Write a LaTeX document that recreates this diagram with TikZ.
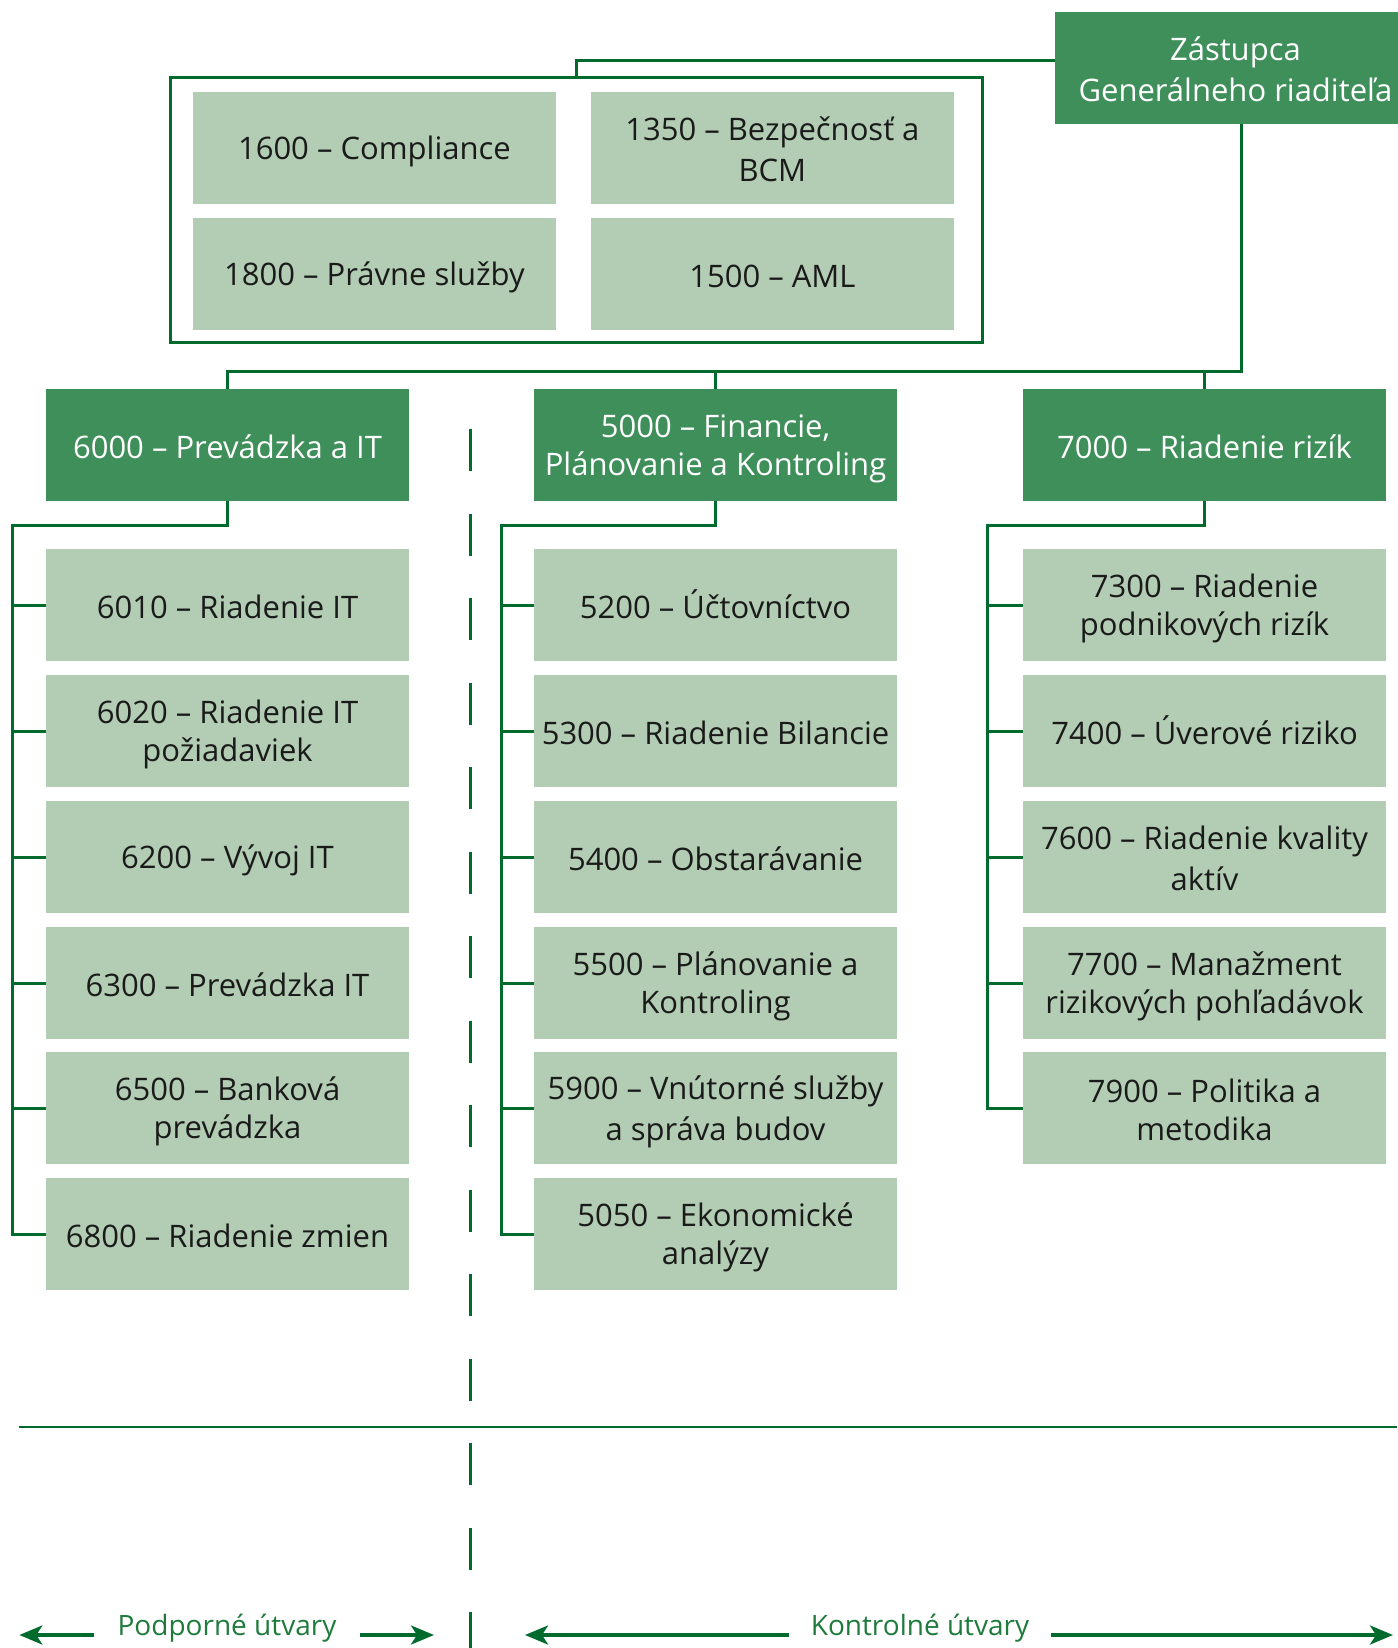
\documentclass[tikz,border=0pt]{standalone}
\usepackage{fontspec}
\setmainfont{Open Sans}
\usetikzlibrary{arrows.meta}
\definecolor{dkg}{HTML}{3F8F5B}
\definecolor{ltg}{HTML}{B2CDB3}
\definecolor{lnc}{HTML}{006B2D}
\definecolor{lbl}{HTML}{1E7B3C}
\definecolor{txt}{HTML}{1A1A1A}
\newcommand{\st}{\rule[-0.15em]{0pt}{1.15em}}
\begin{document}
\begin{tikzpicture}[x=0.5pt,y=-0.5pt,
  box/.style={rectangle, minimum width=181.5pt, minimum height=56pt, inner sep=0pt,
    align=center, font=\fontsize{15.5}{18.85}\selectfont, text=txt},
  head/.style={box, fill=dkg, text=white},
  unit/.style={box, fill=ltg},
  conn/.style={draw=lnc, line width=1.5pt},
  divider/.style={draw=lnc, line width=1.75pt, dash pattern=on 21pt off 21.25pt},
  sep/.style={draw=lnc, line width=1.1pt},
  lab/.style={font=\fontsize{14}{16}\selectfont, text=lbl, anchor=base, inner ysep=0pt},
  arr/.style={draw=lnc, line width=1.75pt, -{Stealth[length=11.5pt,width=9.5pt,inset=3pt]}},
]
\useasboundingbox (0,0) rectangle (1397,1648);

% top
\node[head, minimum width=180pt, anchor=west] (zgr) at (1055,68) {\st Zástupca\\\st Generálneho riaditeľa};
\node[draw=lnc, line width=1.5pt, minimum width=405.7pt, minimum height=132.35pt, inner sep=0pt] (grp) at (576.3,210.35) {};
\node[unit] (g1) at (374.4,147.9) {\st 1600 – Compliance};
\node[unit] (g2) at (772.4,147.9) {\st 1350 – Bezpečnosť a\\\st BCM};
\node[unit] (g3) at (374.4,273.9) {\st 1800 – Právne služby};
\node[unit] (g4) at (772.4,273.9) {\st 1500 – AML};

\coordinate (zj) at (0,61);
\draw[conn] (zgr.west |- zj) -- (grp.north |- zj) -- (grp.north);

% heads
\node[head] (h6) at (227.5,445) {\st 6000 – Prevádzka a IT};
\node[head] (h5) at (715.5,445) {\st 5000 – Financie,\\\st Plánovanie a Kontroling};
\node[head] (h7) at (1204.5,445) {\st 7000 – Riadenie rizík};

\coordinate (zv) at (1241.5,371);
\draw[conn] (zgr.south -| zv) -- (zv) -- (h6.north |- zv) -- (h6.north);
\draw[conn] (h5.north |- zv) -- (h5.north);
\draw[conn] (h7.north |- zv) -- (h7.north);

% left column
\node[unit] (a1) at (227.5,605) {\st 6010 – Riadenie IT};
\node[unit] (a2) at (227.5,731) {\st 6020 – Riadenie IT\\\st požiadaviek};
\node[unit] (a3) at (227.5,857) {\st 6200 – Vývoj IT};
\node[unit] (a4) at (227.5,983) {\st 6300 – Prevádzka IT};
\node[unit] (a5) at (227.5,1108) {\st 6500 – Banková\\\st prevádzka};
\node[unit] (a6) at (227.5,1234) {\st 6800 – Riadenie zmien};

% middle column
\node[unit] (b1) at (715.5,605) {\st 5200 – Účtovníctvo};
\node[unit] (b2) at (715.5,731) {\st 5300 – Riadenie Bilancie};
\node[unit] (b3) at (715.5,857) {\st 5400 – Obstarávanie};
\node[unit] (b4) at (715.5,983) {\st 5500 – Plánovanie a\\\st Kontroling};
\node[unit] (b5) at (715.5,1108) {\st 5900 – Vnútorné služby\\\st a správa budov};
\node[unit] (b6) at (715.5,1234) {\st 5050 – Ekonomické\\\st analýzy};

% right column
\node[unit] (r1) at (1204.5,605) {\st 7300 – Riadenie\\\st podnikových rizík};
\node[unit] (r2) at (1204.5,731) {\st 7400 – Úverové riziko};
\node[unit] (r3) at (1204.5,857) {\st 7600 – Riadenie kvality\\\st aktív};
\node[unit] (r4) at (1204.5,983) {\st 7700 – Manažment\\\st rizikových pohľadávok};
\node[unit] (r5) at (1204.5,1108) {\st 7900 – Politika a\\\st metodika};

\coordinate (v6) at (12.7,525);
\coordinate (v5) at (501.7,525);
\coordinate (v7) at (987.7,525);

\draw[conn] (h6.south) -- (h6.south |- v6) -- (v6) -- (v6 |- a6) -- (a6.west);
\foreach \n in {a1,a2,a3,a4,a5} \draw[conn] (v6 |- \n) -- (\n.west);
\draw[conn] (h5.south) -- (h5.south |- v5) -- (v5) -- (v5 |- b6) -- (b6.west);
\foreach \n in {b1,b2,b3,b4,b5} \draw[conn] (v5 |- \n) -- (\n.west);
\draw[conn] (h7.south) -- (h7.south |- v7) -- (v7) -- (v7 |- r5) -- (r5.west);
\foreach \n in {r1,r2,r3,r4} \draw[conn] (v7 |- \n) -- (\n.west);

% divider and separator
\coordinate (dtop) at (470.3,429);
\coordinate (dbot) at (470.3,1648);
\draw[divider] (dtop) -- (dbot);
\coordinate (sl) at (18.7,1426.7);
\coordinate (sr) at (1397,1426.7);
\draw[sep] (sl) -- (sr);

% bottom labels
\node[lab, inner xsep=11.5pt] (lp) at (227,1635) {Podporné útvary};
\node[lab, inner xsep=10.75pt] (lk) at (920,1635) {Kontrolné útvary};
\coordinate (pl) at (19.3,1635);
\coordinate (pr) at (434,1635);
\coordinate (kl) at (525,1635);
\coordinate (kr) at (1393,1635);
\draw[arr] (lp.base west) -- (lp.base west -| pl);
\draw[arr] (lp.base east) -- (lp.base east -| pr);
\draw[arr] (lk.base west) -- (lk.base west -| kl);
\draw[arr] (lk.base east) -- (lk.base east -| kr);
\end{tikzpicture}
\end{document}
